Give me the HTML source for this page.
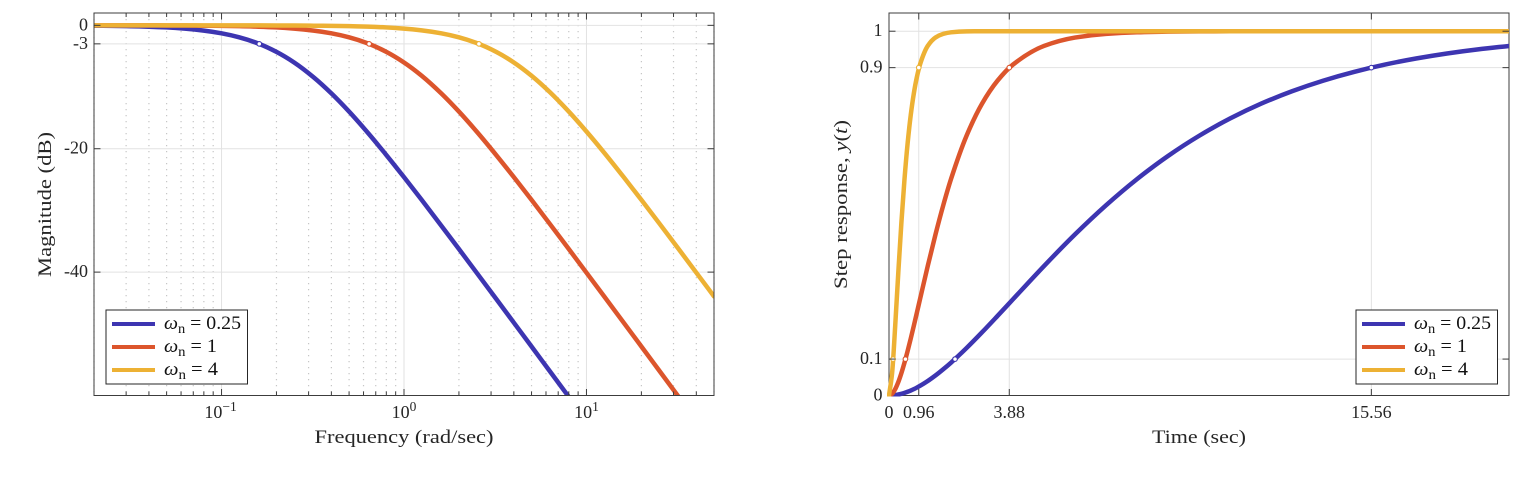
<!DOCTYPE html>
<html lang="en">
<head>
<meta charset="utf-8">
<title>Bode magnitude and step response</title>
<style>
html,body{margin:0;padding:0;background:#fff;width:1537px;height:479px;overflow:hidden}
svg{display:block}
text{font-family:"Liberation Serif","DejaVu Serif",serif;fill:#262626}
.tick{font-size:18px}
.title{font-size:19px}
.leg{font-size:18.5px;fill:#111}
.sub{font-size:13.5px}
</style>
</head>
<body>
<svg id="figure" xmlns="http://www.w3.org/2000/svg" width="1537" height="479" viewBox="0 0 1537 479">
  <defs>
    <clipPath id="clip-left"><rect x="94" y="13" width="620" height="382.5"/></clipPath>
    <clipPath id="clip-right"><rect x="887" y="13" width="622" height="383.5"/></clipPath>
  </defs>

  <g id="left-chart">
    <g id="left-grid"></g>
    <g id="left-series" clip-path="url(#clip-left)"></g>
    <g id="left-markers"></g>
    <rect x="94" y="13" width="620" height="382.5" fill="none" stroke="#3c3c3c" stroke-width="1"/>
    <g id="left-ticks"></g>
    <text class="title" x="404" y="443" text-anchor="middle" textLength="179" lengthAdjust="spacingAndGlyphs">Frequency (rad/sec)</text>
    <text class="title" transform="translate(51 204.5) rotate(-90)" text-anchor="middle" textLength="145" lengthAdjust="spacingAndGlyphs">Magnitude (dB)</text>
    <g>
      <rect x="106" y="310" width="141.5" height="74" fill="#fff" stroke="#262626" stroke-width="1"/>
      <g>
        <line x1="112" x2="155" y1="324" y2="324" stroke="#3d35b1" stroke-width="4"/>
        <text class="leg" x="164" y="329" textLength="77" lengthAdjust="spacingAndGlyphs"><tspan font-style="italic">ω</tspan><tspan class="sub" dy="4">n</tspan><tspan dy="-4"> = 0.25</tspan></text>
      </g>
      <g>
        <line x1="112" x2="155" y1="347" y2="347" stroke="#dc552c" stroke-width="4"/>
        <text class="leg" x="164" y="352" textLength="53" lengthAdjust="spacingAndGlyphs"><tspan font-style="italic">ω</tspan><tspan class="sub" dy="4">n</tspan><tspan dy="-4"> = 1</tspan></text>
      </g>
      <g>
        <line x1="112" x2="155" y1="370" y2="370" stroke="#edb134" stroke-width="4"/>
        <text class="leg" x="164" y="375" textLength="54" lengthAdjust="spacingAndGlyphs"><tspan font-style="italic">ω</tspan><tspan class="sub" dy="4">n</tspan><tspan dy="-4"> = 4</tspan></text>
      </g>
    </g>
  </g>

  <g id="right-chart">
    <g id="right-grid"></g>
    <rect x="889" y="13" width="620" height="382.5" fill="none" stroke="#3c3c3c" stroke-width="1"/>
    <g id="right-series" clip-path="url(#clip-right)"></g>
    <g id="right-markers"></g>
    <g id="right-ticks"></g>
    <text class="title" x="1199" y="443" text-anchor="middle" textLength="94" lengthAdjust="spacingAndGlyphs">Time (sec)</text>
    <text class="title" transform="translate(847 204.5) rotate(-90)" text-anchor="middle" textLength="169" lengthAdjust="spacingAndGlyphs">Step response, <tspan font-style="italic">y</tspan>(<tspan font-style="italic">t</tspan>)</text>
    <g>
      <rect x="1356" y="310" width="141.5" height="74" fill="#fff" stroke="#262626" stroke-width="1"/>
      <g>
        <line x1="1362" x2="1405" y1="324" y2="324" stroke="#3d35b1" stroke-width="4"/>
        <text class="leg" x="1414" y="329" textLength="77" lengthAdjust="spacingAndGlyphs"><tspan font-style="italic">ω</tspan><tspan class="sub" dy="4">n</tspan><tspan dy="-4"> = 0.25</tspan></text>
      </g>
      <g>
        <line x1="1362" x2="1405" y1="347" y2="347" stroke="#dc552c" stroke-width="4"/>
        <text class="leg" x="1414" y="352" textLength="53" lengthAdjust="spacingAndGlyphs"><tspan font-style="italic">ω</tspan><tspan class="sub" dy="4">n</tspan><tspan dy="-4"> = 1</tspan></text>
      </g>
      <g>
        <line x1="1362" x2="1405" y1="370" y2="370" stroke="#edb134" stroke-width="4"/>
        <text class="leg" x="1414" y="375" textLength="54" lengthAdjust="spacingAndGlyphs"><tspan font-style="italic">ω</tspan><tspan class="sub" dy="4">n</tspan><tspan dy="-4"> = 4</tspan></text>
      </g>
    </g>
  </g>
</svg>

<script>
// ---- Magnitude chart data ----
const seriesNames = ['wn-0-25', 'wn-1', 'wn-4'];
const seriesColors = ['#3d35b1', '#dc552c', '#edb134'];
const frequencies = [0.02, 0.025, 0.032, 0.04, 0.05, 0.063, 0.08, 0.1, 0.125, 0.16, 0.2, 0.25, 0.32, 0.4, 0.5, 0.63, 0.8, 1, 1.25, 1.6, 2, 2.5, 3.2, 4, 5, 6.3, 8, 10, 12.5, 16, 20, 25, 32, 40, 50];
const magnitudeBlue = [-0.06, -0.09, -0.14, -0.22, -0.34, -0.54, -0.85, -1.29, -1.94, -2.98, -4.3, -6.02, -8.43, -11.03, -13.98, -17.33, -21.02, -24.61, -28.3, -32.46, -36.26, -40.09, -44.34, -48.2, -52.06, -56.07, -60.21];
const magnitudeRed = [0, -0.01, -0.01, -0.01, -0.02, -0.03, -0.06, -0.09, -0.13, -0.22, -0.34, -0.53, -0.85, -1.29, -1.94, -2.9, -4.3, -6.02, -8.17, -11.03, -13.98, -17.21, -21.02, -24.61, -28.3, -32.19, -36.26, -40.09, -43.93, -48.2, -52.06, -55.93, -60.21];
const magnitudeYellow = [0, 0, 0, 0, 0, 0, 0, -0.01, -0.01, -0.01, -0.02, -0.03, -0.06, -0.09, -0.13, -0.21, -0.34, -0.53, -0.81, -1.29, -1.94, -2.87, -4.3, -6.02, -8.17, -10.83, -13.98, -17.21, -20.64, -24.61, -28.3, -32.05, -36.26, -40.09, -43.93];
const cutoffFrequencies = [0.161, 0.644, 2.574];
const cutoffMagnitude = [-3, -3, -3];
const magnitudeTicks = [0, -3, -20, -40];
const magnitudeTickLabels = ['0', '-3', '-20', '-40'];
const decadeExponents = [-1, 0, 1];
const minorDecades = [-2, -1, 0, 1];
const minorMultipliers = [2, 3, 4, 5, 6, 7, 8, 9];

// ---- Step response chart data ----
const times = [0, 0.1, 0.2, 0.3, 0.4, 0.5, 0.6, 0.7, 0.8, 0.9, 1, 1.25, 1.5, 1.75, 2, 2.5, 3, 3.5, 4, 5, 6, 7, 8, 9, 10, 11, 12, 13, 14, 15, 16, 17, 18, 19, 20];
const stepBlue = [0, 0.0003, 0.0012, 0.0027, 0.0047, 0.0072, 0.0102, 0.0136, 0.0175, 0.0218, 0.0265, 0.0398, 0.055, 0.072, 0.0902, 0.1302, 0.1734, 0.2184, 0.2642, 0.3554, 0.4422, 0.5221, 0.594, 0.6575, 0.7127, 0.7603, 0.8009, 0.8352, 0.8641, 0.8883, 0.9084, 0.9251, 0.9389, 0.9502, 0.9596];
const stepRed = [0, 0.0047, 0.0175, 0.0369, 0.0616, 0.0902, 0.1219, 0.1558, 0.1912, 0.2275, 0.2642, 0.3554, 0.4422, 0.5221, 0.594, 0.7127, 0.8009, 0.8641, 0.9084, 0.9596, 0.9826, 0.9927, 0.997, 0.9988, 0.9995, 0.9998, 0.9999, 1, 1, 1, 1, 1, 1, 1, 1];
const stepYellow = [0, 0.0616, 0.1912, 0.3374, 0.4751, 0.594, 0.6916, 0.7689, 0.8288, 0.8743, 0.9084, 0.9596, 0.9826, 0.9927, 0.997, 0.9995, 0.9999, 1, 1, 1, 1, 1, 1, 1, 1, 1, 1, 1, 1, 1, 1, 1, 1, 1, 1];
const riseStartTimes = [2.13, 0.53, 0.13];
const riseEndTimes = [15.56, 3.88, 0.96];
const riseStartLevel = [0.1, 0.1, 0.1];
const riseEndLevel = [0.9, 0.9, 0.9];
const stepXTicks = [0, 0.96, 3.88, 15.56];
const stepXTickLabels = ['0', '0.96', '3.88', '15.56'];
const stepYTicks = [0, 0.1, 0.9, 1];
const stepYTickLabels = ['0', '0.1', '0.9', '1'];

// ---- Axis functions ----
const leftBox = { x0: 94, x1: 714, y0: 395.5, y1: 13 };
const rightBox = { x0: 889, x1: 1509, y0: 395.5, y1: 13 };
const logMin = Math.log10(0.02), logMax = Math.log10(50);
const xFreq = f => leftBox.x0 + (Math.log10(f) - logMin) / (logMax - logMin) * (leftBox.x1 - leftBox.x0);
const yDb = d => leftBox.y0 + (d + 60) / 62 * (leftBox.y1 - leftBox.y0);
const xTime = t => rightBox.x0 + t / 20 * (rightBox.x1 - rightBox.x0);
const yStep = v => rightBox.y0 + v / 1.05 * (rightBox.y1 - rightBox.y0);

const NS = 'http://www.w3.org/2000/svg';
function lineEl(parent, x1, y1, x2, y2, stroke, width, dash) {
  const el = document.createElementNS(NS, 'line');
  el.setAttribute('x1', x1);
  el.setAttribute('y1', y1);
  el.setAttribute('x2', x2);
  el.setAttribute('y2', y2);
  el.setAttribute('stroke', stroke);
  el.setAttribute('stroke-width', width);
  if (dash) el.setAttribute('stroke-dasharray', dash);
  parent.appendChild(el);
  return el;
}
function textEl(parent, x, y, anchor, str) {
  const el = document.createElementNS(NS, 'text');
  el.setAttribute('x', x);
  el.setAttribute('y', y);
  el.setAttribute('text-anchor', anchor);
  el.setAttribute('class', 'tick');
  el.textContent = str;
  parent.appendChild(el);
  return el;
}
// Monotone cubic path through the read points
function smoothPath(pts) {
  const n = pts.length;
  const d = [], m = [];
  for (let i = 0; i < n - 1; i++) {
    d.push((pts[i + 1][1] - pts[i][1]) / (pts[i + 1][0] - pts[i][0]));
  }
  m.push(d[0]);
  for (let i = 1; i < n - 1; i++) {
    if (d[i - 1] * d[i] <= 0) { m.push(0); continue; }
    const h0 = pts[i][0] - pts[i - 1][0], h1 = pts[i + 1][0] - pts[i][0];
    const w1 = 2 * h1 + h0, w2 = h1 + 2 * h0;
    m.push((w1 + w2) / (w1 / d[i - 1] + w2 / d[i]));
  }
  m.push(d[n - 2]);
  let s = 'M' + pts[0][0].toFixed(2) + ' ' + pts[0][1].toFixed(2);
  for (let i = 0; i < n - 1; i++) {
    const h = (pts[i + 1][0] - pts[i][0]) / 3;
    s += 'C' + (pts[i][0] + h).toFixed(2) + ' ' + (pts[i][1] + m[i] * h).toFixed(2) + ' ' +
      (pts[i + 1][0] - h).toFixed(2) + ' ' + (pts[i + 1][1] - m[i + 1] * h).toFixed(2) + ' ' +
      pts[i + 1][0].toFixed(2) + ' ' + pts[i + 1][1].toFixed(2);
  }
  return s;
}
function curveEl(parent, pts, color) {
  const el = document.createElementNS(NS, 'path');
  el.setAttribute('d', smoothPath(pts));
  el.setAttribute('fill', 'none');
  el.setAttribute('stroke', color);
  el.setAttribute('stroke-width', '4.5');
  el.setAttribute('stroke-linejoin', 'round');
  el.setAttribute('stroke-linecap', 'round');
  parent.appendChild(el);
  return el;
}
function markerEl(parent, x, y, color) {
  const el = document.createElementNS(NS, 'circle');
  el.setAttribute('cx', x);
  el.setAttribute('cy', y);
  el.setAttribute('r', '2.3');
  el.setAttribute('fill', '#fff');
  el.setAttribute('stroke', color);
  el.setAttribute('stroke-width', '1.1');
  parent.appendChild(el);
  return el;
}

// ---- Magnitude chart ----
const leftGrid = document.getElementById('left-grid');
const leftTicks = document.getElementById('left-ticks');
const leftSeries = document.getElementById('left-series');
const leftMarkers = document.getElementById('left-markers');

minorDecades.forEach(dec => {
  minorMultipliers.forEach(mult => {
    const f = mult * Math.pow(10, dec);
    if (f < 0.02 || f > 50) return;
    const x = xFreq(f);
    const g = lineEl(leftGrid, x, leftBox.y1, x, leftBox.y0, '#c6c6c6', 1.2, '1.2 4.8');
    
    
    const t1 = lineEl(leftTicks, x, leftBox.y0, x, leftBox.y0 - 4, '#3c3c3c', 1);
    
    
    const t2 = lineEl(leftTicks, x, leftBox.y1, x, leftBox.y1 + 4, '#3c3c3c', 1);
    
    
  });
});
decadeExponents.forEach(exp => {
  const x = xFreq(Math.pow(10, exp));
  const g = lineEl(leftGrid, x, leftBox.y1, x, leftBox.y0, '#e2e2e2', 1);
  
  
  const t1 = lineEl(leftTicks, x, leftBox.y0, x, leftBox.y0 - 6.5, '#3c3c3c', 1);
  
  
  const t2 = lineEl(leftTicks, x, leftBox.y1, x, leftBox.y1 + 6.5, '#3c3c3c', 1);
  
  
  const lbl = textEl(leftTicks, exp < 0 ? x - 1 : x, 418, 'middle', '10');
  
  
  const sup = document.createElementNS(NS, 'tspan');
  sup.setAttribute('dy', '-7');
  sup.setAttribute('class', 'sub');
  sup.textContent = String(exp).replace('-', '\u2212');
  lbl.appendChild(sup);
});
magnitudeTicks.forEach((d, i) => {
  const y = yDb(d);
  const g = lineEl(leftGrid, leftBox.x0, y, leftBox.x1, y, '#e2e2e2', 1);
  
  
  const t1 = lineEl(leftTicks, leftBox.x0, y, leftBox.x0 + 6.5, y, '#3c3c3c', 1);
  
  
  const t2 = lineEl(leftTicks, leftBox.x1, y, leftBox.x1 - 6.5, y, '#3c3c3c', 1);
  
  
  const lbl = textEl(leftTicks, 88, y + 5, 'end', magnitudeTickLabels[i]);
  
  
});
[magnitudeBlue, magnitudeRed, magnitudeYellow].forEach((vals, s) => {
  const pts = vals.map((v, i) => [xFreq(frequencies[i]), yDb(v)]);
  const c = curveEl(leftSeries, pts, seriesColors[s]);
  
  
  const mk = markerEl(leftMarkers, xFreq(cutoffFrequencies[s]), yDb(cutoffMagnitude[s]), seriesColors[s]);
  
  
});

// ---- Step chart ----
const rightGrid = document.getElementById('right-grid');
const rightTicks = document.getElementById('right-ticks');
const rightSeries = document.getElementById('right-series');
const rightMarkers = document.getElementById('right-markers');

stepXTicks.forEach((t, i) => {
  const x = xTime(t);
  if (t > 0) {
    const g = lineEl(rightGrid, x, rightBox.y1, x, rightBox.y0, '#e2e2e2', 1);
    
    
    const t1 = lineEl(rightTicks, x, rightBox.y0, x, rightBox.y0 - 6.5, '#3c3c3c', 1);
    
    
    const t2 = lineEl(rightTicks, x, rightBox.y1, x, rightBox.y1 + 6.5, '#3c3c3c', 1);
    
    
  }
  const lbl = textEl(rightTicks, x, 418, 'middle', stepXTickLabels[i]);
  
  
});
stepYTicks.forEach((v, i) => {
  const y = yStep(v);
  if (v > 0) {
    const g = lineEl(rightGrid, rightBox.x0, y, rightBox.x1, y, '#e2e2e2', 1);
    
    
    const t1 = lineEl(rightTicks, rightBox.x0, y, rightBox.x0 + 6.5, y, '#3c3c3c', 1);
    
    
    const t2 = lineEl(rightTicks, rightBox.x1, y, rightBox.x1 - 6.5, y, '#3c3c3c', 1);
    
    
  }
  const lbl = textEl(rightTicks, 882.5, y + 5, 'end', stepYTickLabels[i]);
  
  
});
[stepBlue, stepRed, stepYellow].forEach((vals, s) => {
  const pts = vals.map((v, i) => [xTime(times[i]), yStep(v)]);
  const c = curveEl(rightSeries, pts, seriesColors[s]);
  
  
  const m1 = markerEl(rightMarkers, xTime(riseStartTimes[s]), yStep(riseStartLevel[s]), seriesColors[s]);
  
  
  const m2 = markerEl(rightMarkers, xTime(riseEndTimes[s]), yStep(riseEndLevel[s]), seriesColors[s]);
  
  
});
</script>
</body>
</html>
